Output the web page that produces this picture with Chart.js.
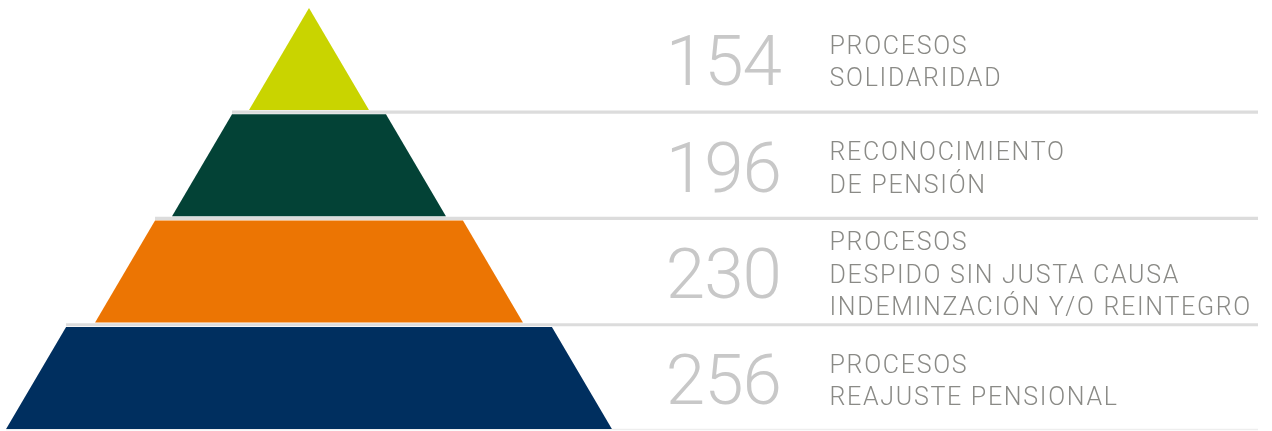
<!DOCTYPE html>
<html>
<head>
<meta charset="utf-8">
<script src="https://cdn.jsdelivr.net/npm/chart.js@4"></script>
<style>
  html, body { margin: 0; padding: 0; background: #fff; }
  #wrap { width: 1272px; height: 431px; }
</style>
</head>
<body>
<div id="wrap"><canvas id="chart" width="1272" height="431"></canvas></div>
<script>
// Data: pyramid levels from top to bottom
const values = [154, 196, 230, 256];
const labels = [
  ['PROCESOS', 'SOLIDARIDAD'],
  ['RECONOCIMIENTO', 'DE PENSIÓN'],
  ['PROCESOS', 'DESPIDO SIN JUSTA CAUSA', 'INDEMINZACIÓN Y/O REINTEGRO'],
  ['PROCESOS', 'REAJUSTE PENSIONAL']
];
const colors = ['#c9d400', '#034236', '#ec7503', '#002f5f'];

// Pyramid geometry (in scale units = px of the 1272x431 frame)
const apex = { x: 309, y: 8 };
const layerH = 102;
const layerGap = 4.3;
const slope = 0.588;                // half-width growth per unit of height
const stepOut = [0, 17, 17, 29];    // extra half-width added at each new level
const lineEnd = 1258;

const levels = [];
let half = 0;
values.forEach((v, i) => {
  half += stepOut[i];
  const top = apex.y + i * (layerH + layerGap);
  const bottom = top + layerH;
  const topHalf = half;
  const bottomHalf = half + layerH * slope;
  levels.push({ top, bottom, topHalf, bottomHalf });
  half = bottomHalf;
});

const datasets = [];

// separator lines under each level (drawn first, behind)
levels.forEach((lv, i) => {
  const next = levels[i + 1];
  const y = next ? (lv.bottom + next.top) / 2 : lv.bottom + 0.5;
  const xStart = next ? apex.x - next.topHalf : apex.x - lv.bottomHalf;
  datasets.push({
    type: 'line',
    data: [{ x: xStart, y }, { x: lineEnd, y }],
    borderColor: next ? '#dcdcdc' : '#eeeeee',
    borderWidth: next ? 3.2 : 1.5,
    pointRadius: 0,
    fill: false,
    order: 2
  });
});

// pyramid levels as closed shapes
levels.forEach((lv, i) => {
  datasets.push({
    type: 'line',
    label: labels[i].join(' '),
    data: [
      { x: apex.x - lv.topHalf, y: lv.top },
      { x: apex.x + lv.topHalf, y: lv.top },
      { x: apex.x + lv.bottomHalf, y: lv.bottom },
      { x: apex.x - lv.bottomHalf, y: lv.bottom },
      { x: apex.x - lv.topHalf, y: lv.top }
    ],
    borderWidth: 0,
    borderColor: colors[i],
    backgroundColor: colors[i],
    pointRadius: 0,
    tension: 0,
    fill: 'shape',
    order: 1
  });
});

// numbers and descriptions next to each level
const textPlugin = {
  id: 'levelText',
  afterDatasetsDraw(chart) {
    const { ctx, scales: { x, y } } = chart;
    ctx.save();
    levels.forEach((lv, i) => {
      const cy = y.getPixelForValue((lv.top + lv.bottom) / 2);

      const ns = 71;
      ctx.font = '300 ' + ns + 'px Roboto';
      ctx.fillStyle = '#c8c8c8';
      ctx.textAlign = 'left';
      ctx.textBaseline = 'alphabetic';
      ctx.letterSpacing = '-1px';
      const txt = String(values[i]);
      const w = ctx.measureText(txt).width;
      ctx.fillText(txt, x.getPixelForValue(781) - w, cy + 1 + ns * 0.711 / 2);

      const lines = labels[i];
      const pitch = 32.3;
      const fs = 25;
      ctx.font = '300 ' + fs + 'px Roboto';
      ctx.fillStyle = '#8a8a86';
      ctx.letterSpacing = '1.7px';
      lines.forEach((t, j) => {
        const base = cy + 2.3 - (lines.length - 1) * pitch / 2 + j * pitch + fs * 0.711 / 2;
        ctx.fillText(t, x.getPixelForValue(829.5), base);
      });
    });
    ctx.restore();
  }
};

new Chart(document.getElementById('chart'), {
  type: 'line',
  data: { datasets },
  options: {
    responsive: false,
    animation: false,
    layout: { padding: 0 },
    plugins: { legend: { display: false }, tooltip: { enabled: false } },
    scales: {
      x: { type: 'linear', min: 0, max: 1272, display: false },
      y: { type: 'linear', min: 0, max: 431, reverse: true, display: false }
    }
  },
  plugins: [textPlugin]
});
</script>
</body>
</html>
